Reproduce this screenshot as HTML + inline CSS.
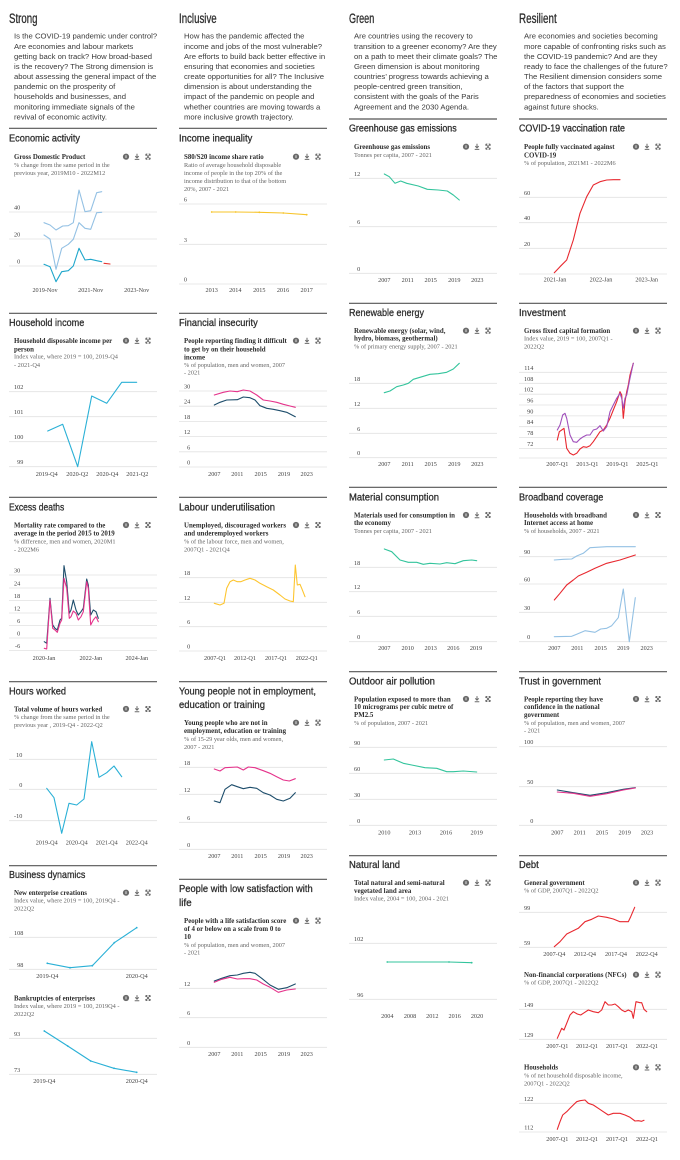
<!DOCTYPE html>
<html><head><meta charset="utf-8"><style>
html,body{margin:0;padding:0;background:#fff;}
svg{display:block;}
.h{font-family:"Liberation Sans Narrow","Liberation Sans",sans-serif;fill:#2e2e2e;stroke:#2e2e2e;stroke-width:0.3;}
.p{font-family:"Liberation Sans",sans-serif;font-size:7.7px;fill:#3a3a3a;}
.t{font-family:"Liberation Serif",serif;font-weight:bold;font-size:6.9px;fill:#2e2e2e;}
.s{font-family:"Liberation Serif",serif;font-size:6.3px;fill:#666;}
.k{font-family:"Liberation Serif",serif;font-size:6.2px;fill:#444;}
.ke{font-family:"Liberation Serif",serif;font-size:6.2px;fill:#444;text-anchor:end;}
.km{font-family:"Liberation Serif",serif;font-size:6.2px;fill:#444;text-anchor:middle;}
.g{stroke:#e2e2e2;stroke-width:0.8;}
.d{stroke:#555;stroke-width:1.2;}
.l{fill:none;stroke-width:1.1;stroke-linejoin:round;stroke-linecap:round;}
</style></head><body>
<svg width="680" height="1160" viewBox="0 0 680 1160" xmlns="http://www.w3.org/2000/svg">
<defs>
<g id="ic">
<circle cx="0" cy="0" r="3.1" fill="#6a6a6a"/>
<rect x="-0.4" y="-1.5" width="0.8" height="2.8" fill="#fff"/>
<path d="M11,-2.9V1.2M9.3,-0.6L11,1.2L12.7,-0.6M8.7,2.7H13.3" stroke="#6a6a6a" stroke-width="1" fill="none"/>
<path d="M19.8,-2.6L24.2,2.6M24.2,-2.6L19.8,2.6M19.8,-2.6h1.6M19.8,-2.6v1.6M24.2,-2.6h-1.6M24.2,-2.6v1.6M19.8,2.6h1.6M19.8,2.6v-1.6M24.2,2.6h-1.6M24.2,2.6v-1.6" stroke="#6a6a6a" stroke-width="0.9" fill="none"/>
</g>
</defs>

<!-- ===== Column headers ===== -->
<text class="h" x="9" y="23" font-size="13.5" textLength="28.5" lengthAdjust="spacingAndGlyphs">Strong</text>
<text class="h" x="179" y="23" font-size="13.5" textLength="37.7" lengthAdjust="spacingAndGlyphs">Inclusive</text>
<text class="h" x="349" y="23" font-size="13.5" textLength="25.3" lengthAdjust="spacingAndGlyphs">Green</text>
<text class="h" x="519" y="23" font-size="13.5" textLength="37.7" lengthAdjust="spacingAndGlyphs">Resilient</text>

<g class="p">
<text x="14" y="38.7">Is the COVID-19 pandemic under control?</text>
<text x="14" y="48.8">Are economies and labour markets</text>
<text x="14" y="58.9">getting back on track? How broad-based</text>
<text x="14" y="69">is the recovery? The Strong dimension is</text>
<text x="14" y="79">about assessing the general impact of the</text>
<text x="14" y="89.1">pandemic on the prosperity of</text>
<text x="14" y="99.2">households and businesses, and</text>
<text x="14" y="109.3">monitoring immediate signals of the</text>
<text x="14" y="119.4">revival of economic activity.</text>

<text x="184" y="38.7">How has the pandemic affected the</text>
<text x="184" y="48.8">income and jobs of the most vulnerable?</text>
<text x="184" y="58.9">Are efforts to build back better effective in</text>
<text x="184" y="69">ensuring that economies and societies</text>
<text x="184" y="79">create opportunities for all? The Inclusive</text>
<text x="184" y="89.1">dimension is about understanding the</text>
<text x="184" y="99.2">impact of the pandemic on people and</text>
<text x="184" y="109.3">whether countries are moving towards a</text>
<text x="184" y="119.4">more inclusive growth trajectory.</text>

<text x="354" y="38.7">Are countries using the recovery to</text>
<text x="354" y="48.8">transition to a greener economy? Are they</text>
<text x="354" y="58.9">on a path to meet their climate goals? The</text>
<text x="354" y="69">Green dimension is about monitoring</text>
<text x="354" y="79">countries’ progress towards achieving a</text>
<text x="354" y="89.1">people-centred green transition,</text>
<text x="354" y="99.2">consistent with the goals of the Paris</text>
<text x="354" y="109.3">Agreement and the 2030 Agenda.</text>

<text x="524" y="38.7">Are economies and societies becoming</text>
<text x="524" y="48.8">more capable of confronting risks such as</text>
<text x="524" y="58.9">the COVID-19 pandemic? And are they</text>
<text x="524" y="69">ready to face the challenges of the future?</text>
<text x="524" y="79">The Resilient dimension considers some</text>
<text x="524" y="89.1">of the factors that support the</text>
<text x="524" y="99.2">preparedness of economies and societies</text>
<text x="524" y="109.3">against future shocks.</text>
</g>

<!-- ===== Dividers ===== -->
<g class="d">
<line x1="9" y1="128.3" x2="157" y2="128.3"/><line x1="179" y1="128.3" x2="327" y2="128.3"/>
<line x1="349" y1="119" x2="497" y2="119"/><line x1="519" y1="119" x2="667" y2="119"/>
<line x1="9" y1="313.3" x2="157" y2="313.3"/><line x1="179" y1="313.3" x2="327" y2="313.3"/>
<line x1="349" y1="303.3" x2="497" y2="303.3"/><line x1="519" y1="303.3" x2="667" y2="303.3"/>
<line x1="9" y1="497.3" x2="157" y2="497.3"/><line x1="179" y1="497.3" x2="327" y2="497.3"/>
<line x1="349" y1="487.3" x2="497" y2="487.3"/><line x1="519" y1="487.3" x2="667" y2="487.3"/>
<line x1="9" y1="681.7" x2="157" y2="681.7"/><line x1="179" y1="681.7" x2="327" y2="681.7"/>
<line x1="349" y1="671.7" x2="497" y2="671.7"/><line x1="519" y1="671.7" x2="667" y2="671.7"/>
<line x1="9" y1="865.7" x2="157" y2="865.7"/><line x1="179" y1="879.3" x2="327" y2="879.3"/>
<line x1="349" y1="855.7" x2="497" y2="855.7"/><line x1="519" y1="855.7" x2="667" y2="855.7"/>
</g>

<!-- ===== Section titles ===== -->
<g font-size="10.5">
<text class="h" x="9" y="141.6" textLength="71" lengthAdjust="spacingAndGlyphs">Economic activity</text>
<text class="h" x="179" y="141.6" textLength="73.3" lengthAdjust="spacingAndGlyphs">Income inequality</text>
<text class="h" x="349" y="131.6" textLength="107.7" lengthAdjust="spacingAndGlyphs">Greenhouse gas emissions</text>
<text class="h" x="519" y="131.6" textLength="106" lengthAdjust="spacingAndGlyphs">COVID-19 vaccination rate</text>
<text class="h" x="9" y="325.9" textLength="75.3" lengthAdjust="spacingAndGlyphs">Household income</text>
<text class="h" x="179" y="325.9" textLength="78.7" lengthAdjust="spacingAndGlyphs">Financial insecurity</text>
<text class="h" x="349" y="315.9" textLength="75" lengthAdjust="spacingAndGlyphs">Renewable energy</text>
<text class="h" x="519" y="315.9" textLength="46.7" lengthAdjust="spacingAndGlyphs">Investment</text>
<text class="h" x="9" y="510.3" textLength="55.3" lengthAdjust="spacingAndGlyphs">Excess deaths</text>
<text class="h" x="179" y="510.3" textLength="96" lengthAdjust="spacingAndGlyphs">Labour underutilisation</text>
<text class="h" x="349" y="500.3" textLength="90" lengthAdjust="spacingAndGlyphs">Material consumption</text>
<text class="h" x="519" y="500.3" textLength="84.3" lengthAdjust="spacingAndGlyphs">Broadband coverage</text>
<text class="h" x="9" y="694.3" textLength="57" lengthAdjust="spacingAndGlyphs">Hours worked</text>
<text class="h" x="179" y="694.3" textLength="137" lengthAdjust="spacingAndGlyphs">Young people not in employment,</text>
<text class="h" x="179" y="707.9" textLength="86" lengthAdjust="spacingAndGlyphs">education or training</text>
<text class="h" x="349" y="684.3" textLength="86" lengthAdjust="spacingAndGlyphs">Outdoor air pollution</text>
<text class="h" x="519" y="684.3" textLength="82" lengthAdjust="spacingAndGlyphs">Trust in government</text>
<text class="h" x="9" y="877.9" textLength="76.3" lengthAdjust="spacingAndGlyphs">Business dynamics</text>
<text class="h" x="179" y="891.9" textLength="133.7" lengthAdjust="spacingAndGlyphs">People with low satisfaction with</text>
<text class="h" x="179" y="905.9" textLength="12.7" lengthAdjust="spacingAndGlyphs">life</text>
<text class="h" x="349" y="867.9" textLength="51" lengthAdjust="spacingAndGlyphs">Natural land</text>
<text class="h" x="519" y="867.9" textLength="19.7" lengthAdjust="spacingAndGlyphs">Debt</text>
</g>

<!-- ===== Chart titles & subtitles ===== -->
<g>
<text class="t" x="14" y="159">Gross Domestic Product</text>
<text class="s" x="14" y="167">% change from the same period in the</text>
<text class="s" x="14" y="175">previous year, 2019M10 - 2022M12</text>

<text class="t" x="184" y="159">S80/S20 income share ratio</text>
<text class="s" x="184" y="167">Ratio of average household disposable</text>
<text class="s" x="184" y="175">income of people in the top 20% of the</text>
<text class="s" x="184" y="183">income distribution to that of the bottom</text>
<text class="s" x="184" y="191">20%, 2007 - 2021</text>

<text class="t" x="354" y="149">Greenhouse gas emissions</text>
<text class="s" x="354" y="157">Tonnes per capita, 2007 - 2021</text>

<text class="t" x="524" y="149">People fully vaccinated against</text>
<text class="t" x="524" y="157.3">COVID-19</text>
<text class="s" x="524" y="165">% of population, 2021M1 - 2022M6</text>

<text class="t" x="14" y="343">Household disposable income per</text>
<text class="t" x="14" y="351.3">person</text>
<text class="s" x="14" y="358.7">Index value, where 2019 = 100, 2019-Q4</text>
<text class="s" x="14" y="367">- 2021-Q4</text>

<text class="t" x="184" y="343">People reporting finding it difficult</text>
<text class="t" x="184" y="351.3">to get by on their household</text>
<text class="t" x="184" y="359.3">income</text>
<text class="s" x="184" y="367">% of population, men and women, 2007</text>
<text class="s" x="184" y="374.7">- 2021</text>

<text class="t" x="354" y="333">Renewable energy (solar, wind,</text>
<text class="t" x="354" y="340.6">hydro, biomass, geothermal)</text>
<text class="s" x="354" y="348.7">% of primary energy supply, 2007 - 2021</text>

<text class="t" x="524" y="333">Gross fixed capital formation</text>
<text class="s" x="524" y="340.3">Index value, 2019 = 100, 2007Q1 -</text>
<text class="s" x="524" y="348.7">2022Q2</text>

<text class="t" x="14" y="527.3">Mortality rate compared to the</text>
<text class="t" x="14" y="535.3">average in the period 2015 to 2019</text>
<text class="s" x="14" y="543.7">% difference, men and women, 2020M1</text>
<text class="s" x="14" y="551.3">- 2022M6</text>

<text class="t" x="184" y="527.3">Unemployed, discouraged workers</text>
<text class="t" x="184" y="535.3">and underemployed workers</text>
<text class="s" x="184" y="543.7">% of the labour force, men and women,</text>
<text class="s" x="184" y="551.3">2007Q1 - 2021Q4</text>

<text class="t" x="354" y="517.3">Materials used for consumption in</text>
<text class="t" x="354" y="525">the economy</text>
<text class="s" x="354" y="533">Tonnes per capita, 2007 - 2021</text>

<text class="t" x="524" y="517.3">Households with broadband</text>
<text class="t" x="524" y="525">Internet access at home</text>
<text class="s" x="524" y="533">% of households, 2007 - 2021</text>

<text class="t" x="14" y="711.3">Total volume of hours worked</text>
<text class="s" x="14" y="719">% change from the same period in the</text>
<text class="s" x="14" y="727">previous year , 2019-Q4 - 2022-Q2</text>

<text class="t" x="184" y="725">Young people who are not in</text>
<text class="t" x="184" y="733">employment, education or training</text>
<text class="s" x="184" y="741">% of 15-29 year olds, men and women,</text>
<text class="s" x="184" y="749">2007 - 2021</text>

<text class="t" x="354" y="701.3">Population exposed to more than</text>
<text class="t" x="354" y="709">10 micrograms per cubic metre of</text>
<text class="t" x="354" y="717">PM2.5</text>
<text class="s" x="354" y="725">% of population, 2007 - 2021</text>

<text class="t" x="524" y="701.3">People reporting they have</text>
<text class="t" x="524" y="709">confidence in the national</text>
<text class="t" x="524" y="717">government</text>
<text class="s" x="524" y="725">% of population, men and women, 2007</text>
<text class="s" x="524" y="732.7">- 2021</text>

<text class="t" x="14" y="895">New enterprise creations</text>
<text class="s" x="14" y="902.7">Index value, where 2019 = 100, 2019Q4 -</text>
<text class="s" x="14" y="910.7">2022Q2</text>

<text class="t" x="14" y="1000.3">Bankruptcies of enterprises</text>
<text class="s" x="14" y="1008">Index value, where 2019 = 100, 2019Q4 -</text>
<text class="s" x="14" y="1016">2022Q2</text>

<text class="t" x="184" y="923">People with a life satisfaction score</text>
<text class="t" x="184" y="931">of 4 or below on a scale from 0 to</text>
<text class="t" x="184" y="939">10</text>
<text class="s" x="184" y="947">% of population, men and women, 2007</text>
<text class="s" x="184" y="954.7">- 2021</text>

<text class="t" x="354" y="885">Total natural and semi-natural</text>
<text class="t" x="354" y="893">vegetated land area</text>
<text class="s" x="354" y="900.7">Index value, 2004 = 100, 2004 - 2021</text>

<text class="t" x="524" y="885">General government</text>
<text class="s" x="524" y="892.7">% of GDP, 2007Q1 - 2022Q2</text>

<text class="t" x="524" y="977">Non-financial corporations (NFCs)</text>
<text class="s" x="524" y="984.7">% of GDP, 2007Q1 - 2022Q2</text>

<text class="t" x="524" y="1069.6">Households</text>
<text class="s" x="524" y="1077.7">% of net household disposable income,</text>
<text class="s" x="524" y="1085.7">2007Q1 - 2022Q2</text>
</g>

<!-- ===== Icons ===== -->
<use href="#ic" x="126" y="156.7"/><use href="#ic" x="296" y="156.7"/>
<use href="#ic" x="466" y="146.7"/><use href="#ic" x="636" y="146.7"/>
<use href="#ic" x="126" y="340.7"/><use href="#ic" x="296" y="340.7"/>
<use href="#ic" x="466" y="330.7"/><use href="#ic" x="636" y="330.7"/>
<use href="#ic" x="126" y="525"/><use href="#ic" x="296" y="525"/>
<use href="#ic" x="466" y="515"/><use href="#ic" x="636" y="515"/>
<use href="#ic" x="126" y="709"/><use href="#ic" x="296" y="722.7"/>
<use href="#ic" x="466" y="699"/><use href="#ic" x="636" y="699"/>
<use href="#ic" x="126" y="892.7"/><use href="#ic" x="126" y="998"/>
<use href="#ic" x="296" y="920.7"/><use href="#ic" x="466" y="882.7"/>
<use href="#ic" x="636" y="882.7"/><use href="#ic" x="636" y="974.7"/>
<use href="#ic" x="636" y="1067.3"/>

<!-- ===== Gridlines ===== -->
<g class="g">
<line x1="9" x2="157" y1="212" y2="212"/><line x1="9" x2="157" y1="239" y2="239"/><line x1="9" x2="157" y1="266" y2="266"/>
<line x1="179" x2="327" y1="204" y2="204"/><line x1="179" x2="327" y1="244.3" y2="244.3"/><line x1="179" x2="327" y1="284" y2="284"/>
<line x1="349" x2="497" y1="178.3" y2="178.3"/><line x1="349" x2="497" y1="226.7" y2="226.7"/><line x1="349" x2="497" y1="273.3" y2="273.3"/>
<line x1="519" x2="667" y1="197.3" y2="197.3"/><line x1="519" x2="667" y1="222.7" y2="222.7"/><line x1="519" x2="667" y1="248.3" y2="248.3"/><line x1="519" x2="667" y1="274" y2="274"/>
<line x1="9" x2="157" y1="391.7" y2="391.7"/><line x1="9" x2="157" y1="416.7" y2="416.7"/><line x1="9" x2="157" y1="441.7" y2="441.7"/><line x1="9" x2="157" y1="466.7" y2="466.7"/>
<line x1="179" x2="327" y1="391" y2="391"/><line x1="179" x2="327" y1="406.2" y2="406.2"/><line x1="179" x2="327" y1="421.4" y2="421.4"/><line x1="179" x2="327" y1="436.6" y2="436.6"/><line x1="179" x2="327" y1="451.8" y2="451.8"/><line x1="179" x2="327" y1="467" y2="467"/>
<line x1="349" x2="497" y1="383.3" y2="383.3"/><line x1="349" x2="497" y1="408.3" y2="408.3"/><line x1="349" x2="497" y1="433.3" y2="433.3"/><line x1="349" x2="497" y1="457.7" y2="457.7"/>
<line x1="519" x2="667" y1="372.3" y2="372.3"/><line x1="519" x2="667" y1="383.3" y2="383.3"/><line x1="519" x2="667" y1="394.2" y2="394.2"/><line x1="519" x2="667" y1="405" y2="405"/><line x1="519" x2="667" y1="415.9" y2="415.9"/><line x1="519" x2="667" y1="426.7" y2="426.7"/><line x1="519" x2="667" y1="437.5" y2="437.5"/><line x1="519" x2="667" y1="448.5" y2="448.5"/><line x1="519" x2="667" y1="458" y2="458"/>
<line x1="9" x2="157" y1="575" y2="575"/><line x1="9" x2="157" y1="588" y2="588"/><line x1="9" x2="157" y1="600.5" y2="600.5"/><line x1="9" x2="157" y1="613" y2="613"/><line x1="9" x2="157" y1="625.5" y2="625.5"/><line x1="9" x2="157" y1="638" y2="638"/><line x1="9" x2="157" y1="650.5" y2="650.5"/>
<line x1="179" x2="327" y1="577.7" y2="577.7"/><line x1="179" x2="327" y1="602.3" y2="602.3"/><line x1="179" x2="327" y1="626.7" y2="626.7"/><line x1="179" x2="327" y1="651" y2="651"/>
<line x1="349" x2="497" y1="567.3" y2="567.3"/><line x1="349" x2="497" y1="591.7" y2="591.7"/><line x1="349" x2="497" y1="616.3" y2="616.3"/><line x1="349" x2="497" y1="641.7" y2="641.7"/>
<line x1="519" x2="667" y1="556.7" y2="556.7"/><line x1="519" x2="667" y1="584" y2="584"/><line x1="519" x2="667" y1="612.3" y2="612.3"/><line x1="519" x2="667" y1="641.7" y2="641.7"/>
<line x1="9" x2="157" y1="759.3" y2="759.3"/><line x1="9" x2="157" y1="789.3" y2="789.3"/><line x1="9" x2="157" y1="820.7" y2="820.7"/>
<line x1="9" x2="157" y1="937.3" y2="937.3"/><line x1="9" x2="157" y1="969.3" y2="969.3"/>
<line x1="9" x2="157" y1="1038.3" y2="1038.3"/><line x1="9" x2="157" y1="1074.3" y2="1074.3"/>
<line x1="179" x2="327" y1="767.3" y2="767.3"/><line x1="179" x2="327" y1="794.3" y2="794.3"/><line x1="179" x2="327" y1="822.3" y2="822.3"/><line x1="179" x2="327" y1="849.3" y2="849.3"/>
<line x1="179" x2="327" y1="988.3" y2="988.3"/><line x1="179" x2="327" y1="1017.7" y2="1017.7"/><line x1="179" x2="327" y1="1047.3" y2="1047.3"/>
<line x1="349" x2="497" y1="747.3" y2="747.3"/><line x1="349" x2="497" y1="773.3" y2="773.3"/><line x1="349" x2="497" y1="799.3" y2="799.3"/><line x1="349" x2="497" y1="825.3" y2="825.3"/>
<line x1="519" x2="667" y1="746.7" y2="746.7"/><line x1="519" x2="667" y1="786.7" y2="786.7"/><line x1="519" x2="667" y1="825.3" y2="825.3"/>
<line x1="349" x2="497" y1="943.3" y2="943.3"/><line x1="349" x2="497" y1="999.3" y2="999.3"/>
<line x1="519" x2="667" y1="912.3" y2="912.3"/><line x1="519" x2="667" y1="947.3" y2="947.3"/>
<line x1="519" x2="667" y1="1009.3" y2="1009.3"/><line x1="519" x2="667" y1="1039.3" y2="1039.3"/>
<line x1="519" x2="667" y1="1103.3" y2="1103.3"/><line x1="519" x2="667" y1="1132" y2="1132"/>
</g>

<!-- ===== Y tick labels ===== -->
<g class="ke">
<text x="20.2" y="209.5">40</text><text x="20.2" y="236.5">20</text><text x="20.2" y="263.5">0</text>
<text x="187" y="201.5">6</text><text x="187" y="241.8">3</text><text x="187" y="281.5">0</text>
<text x="360.2" y="175.8">12</text><text x="360.2" y="224.2">6</text><text x="360.2" y="270.8">0</text>
<text x="530.2" y="194.8">60</text><text x="530.2" y="220.2">40</text><text x="530.2" y="245.8">20</text>
<text x="23.3" y="389.2">102</text><text x="23.3" y="414.2">101</text><text x="23.3" y="439.2">100</text><text x="23.3" y="464.2">99</text>
<text x="190.2" y="388.5">30</text><text x="190.2" y="403.7">24</text><text x="190.2" y="418.9">18</text><text x="190.2" y="434.1">12</text><text x="190.2" y="449.3">6</text><text x="190.2" y="464.5">0</text>
<text x="360.2" y="380.8">18</text><text x="360.2" y="405.8">12</text><text x="360.2" y="430.8">6</text><text x="360.2" y="455.2">0</text>
<text x="533.3" y="369.8">114</text><text x="533.3" y="380.8">108</text><text x="533.3" y="391.7">102</text><text x="533.3" y="402.5">96</text><text x="533.3" y="413.4">90</text><text x="533.3" y="424.2">84</text><text x="533.3" y="435">78</text><text x="533.3" y="446">72</text>
<text x="20.2" y="572.5">30</text><text x="20.2" y="585.5">24</text><text x="20.2" y="598">18</text><text x="20.2" y="610.5">12</text><text x="20.2" y="623">6</text><text x="20.2" y="635.5">0</text><text x="20.2" y="648">-6</text>
<text x="190.2" y="575.2">18</text><text x="190.2" y="599.8">12</text><text x="190.2" y="624.2">6</text><text x="190.2" y="648.5">0</text>
<text x="360.2" y="564.8">18</text><text x="360.2" y="589.2">12</text><text x="360.2" y="613.8">6</text><text x="360.2" y="639.2">0</text>
<text x="530.2" y="554.2">90</text><text x="530.2" y="581.5">60</text><text x="530.2" y="609.8">30</text><text x="530.2" y="639.2">0</text>
<text x="22.3" y="756.8">10</text><text x="22.3" y="786.8">0</text><text x="22.3" y="818.2">-10</text>
<text x="23.3" y="934.8">108</text><text x="23.3" y="966.8">98</text>
<text x="20.2" y="1035.8">93</text><text x="20.2" y="1071.8">73</text>
<text x="190.2" y="764.8">18</text><text x="190.2" y="791.8">12</text><text x="190.2" y="819.8">6</text><text x="190.2" y="846.8">0</text>
<text x="190.2" y="985.8">12</text><text x="190.2" y="1015.2">6</text><text x="190.2" y="1044.8">0</text>
<text x="360.2" y="744.8">90</text><text x="360.2" y="770.8">60</text><text x="360.2" y="796.8">30</text><text x="360.2" y="822.8">0</text>
<text x="533.3" y="744.2">100</text><text x="533.3" y="784.2">50</text><text x="533.3" y="822.8">0</text>
<text x="363.3" y="940.8">102</text><text x="363.3" y="996.8">96</text>
<text x="530.2" y="909.8">99</text><text x="530.2" y="944.8">59</text>
<text x="533.3" y="1006.8">149</text><text x="533.3" y="1036.8">129</text>
<text x="533.3" y="1100.8">122</text><text x="533.3" y="1129.5">112</text>
</g>

<!-- ===== X tick labels ===== -->
<g class="km">
<text x="45" y="292">2019-Nov</text><text x="90.7" y="292">2021-Nov</text><text x="136.7" y="292">2023-Nov</text>
<text x="211.7" y="292">2013</text><text x="235.3" y="292">2014</text><text x="259.3" y="292">2015</text><text x="283" y="292">2016</text><text x="306.7" y="292">2017</text>
<text x="384.3" y="282">2007</text><text x="407.7" y="282">2011</text><text x="430.7" y="282">2015</text><text x="454.3" y="282">2019</text><text x="477.3" y="282">2023</text>
<text x="555" y="281.5">2021-Jan</text><text x="601" y="281.5">2022-Jan</text><text x="646.7" y="281.5">2023-Jan</text>
<text x="46.7" y="476">2019-Q4</text><text x="77.3" y="476">2020-Q2</text><text x="107.3" y="476">2020-Q4</text><text x="137.3" y="476">2021-Q2</text>
<text x="214.3" y="476">2007</text><text x="237.3" y="476">2011</text><text x="260.7" y="476">2015</text><text x="284" y="476">2019</text><text x="306.7" y="476">2023</text>
<text x="384.3" y="466">2007</text><text x="407.7" y="466">2011</text><text x="430.7" y="466">2015</text><text x="454.3" y="466">2019</text><text x="477.3" y="466">2023</text>
<text x="557.3" y="466">2007-Q1</text><text x="587.3" y="466">2013-Q1</text><text x="617.3" y="466">2019-Q1</text><text x="647.3" y="466">2025-Q1</text>
<text x="44" y="660">2020-Jan</text><text x="90.8" y="660">2022-Jan</text><text x="136.8" y="660">2024-Jan</text>
<text x="215" y="660">2007-Q1</text><text x="245" y="660">2012-Q1</text><text x="276" y="660">2017-Q1</text><text x="306.7" y="660">2022-Q1</text>
<text x="384.3" y="650">2007</text><text x="407.7" y="650">2010</text><text x="430.7" y="650">2013</text><text x="453.3" y="650">2016</text><text x="476" y="650">2019</text>
<text x="554.3" y="650">2007</text><text x="577.3" y="650">2011</text><text x="600.7" y="650">2015</text><text x="623.3" y="650">2019</text><text x="646.7" y="650">2023</text>
<text x="46.7" y="844.5">2019-Q4</text><text x="76.7" y="844.5">2020-Q4</text><text x="106.7" y="844.5">2021-Q4</text><text x="136.7" y="844.5">2022-Q4</text>
<text x="47.3" y="978">2019-Q4</text><text x="136.7" y="978">2020-Q4</text>
<text x="44.3" y="1083">2019-Q4</text><text x="136.7" y="1083">2020-Q4</text>
<text x="214.3" y="858">2007</text><text x="237.3" y="858">2011</text><text x="260.7" y="858">2015</text><text x="284" y="858">2019</text><text x="306.7" y="858">2023</text>
<text x="214.3" y="1056">2007</text><text x="237.3" y="1056">2011</text><text x="260.7" y="1056">2015</text><text x="284" y="1056">2019</text><text x="306.7" y="1056">2023</text>
<text x="384.3" y="834.5">2010</text><text x="415" y="834.5">2013</text><text x="446" y="834.5">2016</text><text x="476.7" y="834.5">2019</text>
<text x="557.3" y="834.5">2007</text><text x="579.7" y="834.5">2011</text><text x="602" y="834.5">2015</text><text x="624.7" y="834.5">2019</text><text x="647" y="834.5">2023</text>
<text x="387.3" y="1018">2004</text><text x="410" y="1018">2008</text><text x="432.3" y="1018">2012</text><text x="454.7" y="1018">2016</text><text x="477" y="1018">2020</text>
<text x="554.3" y="956">2007-Q4</text><text x="585" y="956">2012-Q4</text><text x="616" y="956">2017-Q4</text><text x="646.7" y="956">2022-Q4</text>
<text x="557.3" y="1048">2007-Q1</text><text x="587" y="1048">2012-Q1</text><text x="617" y="1048">2017-Q1</text><text x="647" y="1048">2022-Q1</text>
<text x="557.3" y="1141">2007-Q1</text><text x="587" y="1141">2012-Q1</text><text x="617" y="1141">2017-Q1</text><text x="647" y="1141">2022-Q1</text>
</g>

<!-- ===== Series ===== -->
<polyline class="l" stroke="#94c1e4" points="44,222.7 50,225 56,230 62.7,226 68.3,225.7 73.3,222.7 79,190 85,211.7 90.7,210.7 96.7,192.7 101.7,191.7"/>
<polyline class="l" stroke="#94c1e4" points="44,235 50,239 56,269.3 61.7,248.3 68.3,244.3 73.3,239.3 79,222.7 85,228.3 90.7,229.3 96.7,212.7 101.7,212.3"/>
<polyline class="l" stroke="#1ea6cb" points="44,264.3 50,266.7 56,281.7 61.7,271.7 68.3,270.7 73.3,266 79,248.3 85,260 90.7,259.3 96.7,260.7 101.7,261.7"/>
<polyline class="l" stroke="#e5322d" points="104,263.3 110,264"/>
<polyline class="l" stroke="#f7c42a" points="211.7,212 235.7,212 259.3,212.3 283.3,213 306.7,214.7"/>
<g fill="#f7c42a"><circle cx="211.7" cy="212" r="0.9"/><circle cx="235.7" cy="212" r="0.9"/><circle cx="259.3" cy="212.3" r="0.9"/><circle cx="283.3" cy="213" r="0.9"/><circle cx="306.7" cy="214.7" r="0.9"/></g>
<polyline class="l" stroke="#33c49c" points="384.3,174 389.3,176.7 395,183.3 400.7,181 406.7,183.3 418.3,186 427.3,189.3 438.3,190 447.3,191 453.3,195 459.3,200"/>
<polyline class="l" stroke="#e8282f" points="554.3,272.7 560,266.7 566.7,260 573.3,240 580,213.3 586.7,196.7 593.3,185 600,181.7 606.7,180 613.3,179.7 620,179.7"/>
<polyline class="l" stroke="#2ab0d6" points="47.7,431 62.7,424.3 77.7,466.7 91.7,396 106.7,403.3 121.7,382.3 136.7,382.3"/>
<polyline class="l" stroke="#e5338b" points="214.3,395 223.3,392.3 230,391 237.3,391.7 243.3,390 250,391 256.7,395 263.3,400 270,401 276.7,402.3 283.3,404.3 290,406 295.3,407.3"/>
<polyline class="l" stroke="#1d4d6b" points="214.3,405 220,402.3 226.7,400 237.3,399.7 243.3,397 250,397.7 255,400 260,405.7 266.7,408.3 273.3,409.3 280,410.7 286.7,412.3 295.3,416.7"/>
<polyline class="l" stroke="#33c49c" points="384.3,392.7 390,391 396.7,386.7 403.3,385 408.3,383.3 413.3,379.3 420,377.3 430,374.3 438.3,373.7 446.7,372.3 453.3,369 459.3,363.3"/>
<polyline class="l" stroke="#e8282f" points="557.3,440 559.3,431.7 561.7,430 564,428.3 566.7,448.3 570,453.3 573.3,455 576.7,453.3 580,449 583.3,446.7 586.7,447.3 590,445.7 593.3,441.7 596.7,436.7 600,431.7 603.3,430 606.7,425 610,418.3 613.3,410 616.7,401.7 620,391.7 621.7,395 623.3,418.3 625,401.7 626.7,391.7 628.3,385 630,375 633.3,363.3"/>
<polyline class="l" stroke="#a04fbb" points="557.3,430 560,425 562.7,415 565,413.3 566.7,418.3 570,435 573.3,441.7 576.7,442.3 580,439 583.3,436.7 586.7,435 590,435 593.3,430 596.7,429 600,425.7 603.3,431 606.7,426.7 610,411.7 613.3,405 616.7,398.3 620,393.3 621.7,398.3 623.3,408.3 625,398.3 626.7,395 630,378.3 633.3,363.3"/>
<polyline class="l" stroke="#1d4d6b" points="44.3,641.7 46.7,643.3 50,598.3 52.7,625 55,628.3 57.3,630 60,620 61.7,618.3 64,565.7 66.7,581.7 69.3,613.3 71,610 73.3,600 76,610 78.3,615 81,611.7 83.3,608.3 86.7,579 88.3,585 90.7,615 93.3,610 96,611.7 98.3,618.3"/>
<polyline class="l" stroke="#e5338b" points="44.3,648.3 46.7,649 50,600 52.7,628.3 55,630 57.3,632.3 60,623.3 61.7,620 64,578.3 66.7,588.3 69.3,618.3 71,616.7 73.3,611 76,613.3 78.3,620 81,616.7 83.3,611.7 86.7,581.7 88.3,588.3 90.7,625 93.3,620 96,616.7 98.3,621.7"/>
<polyline class="l" stroke="#fdc52f" points="214.3,603.3 220,605 224,603.3 226.7,588.3 230,581.7 233.3,580 237.3,581.7 240.7,581.7 245,580 250,578.3 255,580 260,583.3 266.7,586.7 273.3,590 280,595 285,599 290,601 293.3,601.7 295.3,565 297.3,585 300,584.3 301.7,588.3 305,596.7"/>
<polyline class="l" stroke="#33c49c" points="384.3,549 391.7,551.7 400,560 408.3,562.3 416.7,562.3 423.3,564.3 430,563.3 440,564 446.7,562.7 455,563.7 463.3,560.7 471.7,560 476.7,560.7"/>
<polyline class="l" stroke="#94c1e4" points="554.3,560 563.3,559.3 571.7,559 576.7,556 583.3,553.3 590,547.7 606.7,546.7 623.3,546.7 635.3,546.7"/>
<polyline class="l" stroke="#e8282f" points="554.3,600 560,593.3 566.7,585 573.3,580 578.3,576 586.7,572.3 595,568.3 606.7,563.3 620,560 635.3,555"/>
<polyline class="l" stroke="#94c1e4" points="554.3,636.7 571.7,636.3 576.7,634.3 585,630.7 595,632.3 600.7,629 606.7,628.3 611.7,625.7 618.3,617.7 623.3,589 629.3,641.7 635.3,597.7"/>
<polyline class="l" stroke="#2ab0d6" points="46.7,788.3 54,797.7 61.7,833.3 69,803.3 76.7,805 84,799 91.7,741.7 99,777.3 106.7,772.7 114,766 121.7,776.7"/>
<polyline class="l" stroke="#2ab0d6" points="47.3,963.3 70,967.7 92.3,965.7 114.3,942.7 136.7,927.7"/>
<g fill="#2ab0d6"><circle cx="47.3" cy="963.3" r="0.9"/><circle cx="70" cy="967.7" r="0.9"/><circle cx="92.3" cy="965.7" r="0.9"/><circle cx="114.3" cy="942.7" r="0.9"/><circle cx="136.7" cy="927.7" r="0.9"/></g>
<polyline class="l" stroke="#2ab0d6" points="44.3,1031 67.7,1046 90.7,1061 114,1068.3 136.7,1072.3"/>
<g fill="#2ab0d6"><circle cx="44.3" cy="1031" r="0.9"/><circle cx="67.7" cy="1046" r="0.9"/><circle cx="90.7" cy="1061" r="0.9"/><circle cx="114" cy="1068.3" r="0.9"/><circle cx="136.7" cy="1072.3" r="0.9"/></g>
<polyline class="l" stroke="#e5338b" points="214.3,769 220,771 225,767.7 237.3,767 243.3,770 248.3,767 255,767.7 263.3,770.7 270,773.3 276.7,776.7 283.3,780 289.3,781 295.3,778.7"/>
<polyline class="l" stroke="#1d4d6b" points="214.3,801 220,802.7 225,789.3 231.7,784.7 237.3,786.7 243.3,788.7 250,787.3 256.7,788.3 263.3,792.7 270,795 276.7,799.3 283.3,801 290,798.3 295.3,792.7"/>
<polyline class="l" stroke="#1d4d6b" points="214.3,981 221.7,978.3 230,975.7 237.3,975 243.3,973.3 250,972.3 255,973.3 261.7,978.3 270,985 278.3,989.3 286.7,987.7 295.3,984"/>
<polyline class="l" stroke="#e5338b" points="214.3,982.3 221.7,979.3 230,977.3 237.3,979 243.3,978.7 250,978.7 256.7,980 263.3,984 270,987.3 278.3,992.3 286.7,990 295.3,989"/>
<polyline class="l" stroke="#33c49c" points="384.3,760 393.3,759 403.3,763.3 411.7,765 425,767.7 436.7,768.3 446.7,771.7 453.3,771.7 463.3,771 476.7,772"/>
<polyline class="l" stroke="#1d4d6b" points="557.3,790 573.3,792.7 590,795.3 606.7,792.7 623.3,789.3 635.3,787.7"/>
<polyline class="l" stroke="#e5338b" points="557.3,792 573.3,793.3 590,796.3 606.7,793.7 623.3,790 635.3,788"/>
<polyline class="l" stroke="#33c49c" points="387.3,962 449,962 471.7,962.7"/>
<g fill="#33c49c"><circle cx="387.3" cy="962" r="0.9"/><circle cx="449" cy="962" r="0.9"/><circle cx="471.7" cy="962.7" r="0.9"/></g>
<polyline class="l" stroke="#e8282f" points="554.3,946.7 560,941.7 566.7,934 578.3,928.3 585,921.7 591.7,919.3 598.3,916 606.7,917.3 613.3,919 620,921.7 628.3,921.7 630.7,916.7 634.7,907.3"/>
<polyline class="l" stroke="#e8282f" points="557.3,1038.3 561.7,1028.3 564,1030 566.7,1023.3 570,1015 573.3,1011.7 577.3,1014 580.7,1015 583.3,1013.3 588.3,1010 593.3,1011.7 598.3,1012.7 601.7,1010 605,1001.7 608.3,1005 611.7,1005 615,1004 618.3,1006.7 621.7,1010 625,1011.7 628.3,1010 631.7,1011.7 633.3,1018.3 636,1001.7 640,1002.7 641.7,1002.7 644,1009.3 646.7,1011.7"/>
<polyline class="l" stroke="#e8282f" points="557.3,1129.3 560,1121.7 562.7,1115 566.7,1111.7 570,1108.3 573.3,1105 576.7,1101.7 580,1100.7 585,1100 588.3,1103.3 593.3,1105 598.3,1108.3 603.3,1111.7 608.3,1115 613.3,1113.3 620,1113.3 625,1115 630,1117.3 635,1121 638.3,1120.7 641.7,1121.3 644,1120.3"/>
</svg>
</body></html>
